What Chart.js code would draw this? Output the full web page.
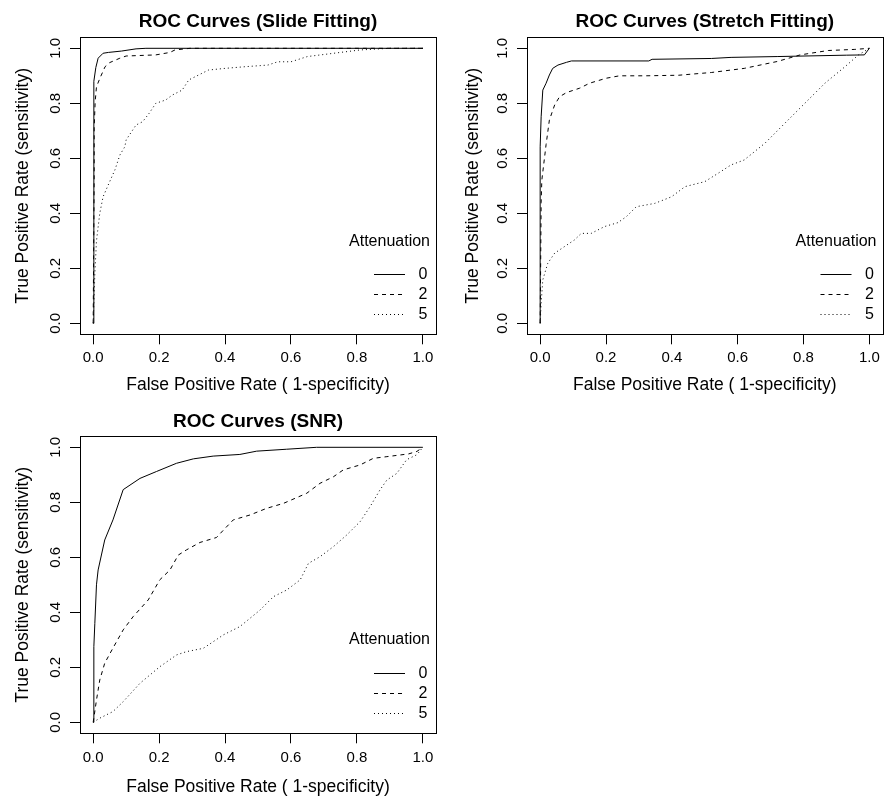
<!DOCTYPE html>
<html>
<head>
<meta charset="utf-8">
<script src="https://cdn.jsdelivr.net/npm/chart.js@4.4.1/dist/chart.umd.min.js"></script>
<style>
  body { margin: 0; background: #fff; }
  canvas { position: absolute; }
</style>
</head>
<body>
<canvas id="slideChart" width="445" height="400" style="left:0;top:0"></canvas>
<canvas id="stretchChart" width="440" height="400" style="left:445px;top:0"></canvas>
<canvas id="snrChart" width="445" height="409" style="left:0;top:390px"></canvas>
<script>
const tickValues = [0, 0.2, 0.4, 0.6, 0.8, 1.0];
const attenuationLevels = ["0", "2", "5"];
const lineDashes = [[], [4, 4], [1, 3]];

// slide fitting: x = false positive rate, y = true positive rate
const slideFpr0 = [0, 0.002, 0.008, 0.015, 0.03, 0.046, 0.086, 0.13, 0.16, 1.0];
const slideTpr0 = [0, 0.88, 0.93, 0.964, 0.982, 0.985, 0.99, 0.998, 1.0, 1.0];
const slideFpr2 = [0, 0.003, 0.003, 0.006, 0.01, 0.02, 0.036, 0.05, 0.081, 0.1, 0.19, 0.233, 0.248, 0.294, 1.0];
const slideTpr2 = [0, 0.54, 0.71, 0.806, 0.86, 0.89, 0.933, 0.948, 0.964, 0.972, 0.976, 0.985, 0.994, 1.0, 1.0];
const slideFpr5 = [0, 0.003, 0.005, 0.01, 0.02, 0.03, 0.05, 0.066, 0.081, 0.096, 0.1, 0.13, 0.15, 0.17, 0.19, 0.22, 0.24, 0.27, 0.29, 0.32, 0.35, 0.4, 0.46, 0.53, 0.56, 0.6, 0.65, 0.73, 0.81, 0.9, 1.0];
const slideTpr5 = [0, 0.1, 0.18, 0.3, 0.4, 0.46, 0.515, 0.558, 0.612, 0.642, 0.667, 0.721, 0.733, 0.764, 0.8, 0.812, 0.83, 0.848, 0.885, 0.903, 0.921, 0.927, 0.933, 0.939, 0.951, 0.951, 0.97, 0.982, 0.994, 1.0, 1.0];

// stretch fitting
const stretchFpr0 = [0, 0, 0.003, 0.008, 0.018, 0.028, 0.038, 0.054, 0.08, 0.095, 0.33, 0.34, 0.52, 0.58, 0.72, 0.93, 0.985, 1.0];
const stretchTpr0 = [0, 0.642, 0.751, 0.848, 0.873, 0.903, 0.927, 0.939, 0.949, 0.954, 0.954, 0.96, 0.963, 0.967, 0.97, 0.975, 0.976, 1.0];
const stretchFpr2 = [0, 0.003, 0.005, 0.013, 0.018, 0.028, 0.044, 0.059, 0.08, 0.12, 0.15, 0.2, 0.241, 0.32, 0.42, 0.52, 0.62, 0.72, 0.79, 0.875, 0.956, 1.0];
const stretchTpr2 = [0, 0.44, 0.52, 0.6, 0.65, 0.739, 0.794, 0.824, 0.839, 0.855, 0.873, 0.891, 0.9, 0.9, 0.902, 0.912, 0.927, 0.952, 0.976, 0.992, 0.996, 1.0];
const stretchFpr5 = [0, 0.003, 0.008, 0.023, 0.044, 0.074, 0.104, 0.125, 0.155, 0.196, 0.236, 0.262, 0.292, 0.348, 0.399, 0.44, 0.5, 0.54, 0.58, 0.62, 0.683, 0.743, 0.804, 0.865, 0.926, 0.967, 1.0];
const stretchTpr5 = [0, 0.073, 0.158, 0.218, 0.255, 0.279, 0.303, 0.327, 0.327, 0.352, 0.366, 0.388, 0.424, 0.436, 0.46, 0.497, 0.515, 0.545, 0.576, 0.594, 0.655, 0.727, 0.8, 0.873, 0.933, 0.976, 1.0];

// SNR
const snrFpr0 = [0, 0.002, 0.005, 0.01, 0.015, 0.035, 0.06, 0.091, 0.142, 0.192, 0.253, 0.304, 0.364, 0.445, 0.496, 0.587, 0.678, 1.0];
const snrTpr0 = [0, 0.275, 0.36, 0.5, 0.554, 0.663, 0.736, 0.846, 0.887, 0.912, 0.942, 0.958, 0.968, 0.974, 0.986, 0.993, 1.0, 1.0];
const snrFpr2 = [0, 0.01, 0.02, 0.035, 0.06, 0.091, 0.121, 0.167, 0.202, 0.233, 0.258, 0.283, 0.324, 0.374, 0.4, 0.425, 0.476, 0.526, 0.577, 0.648, 0.688, 0.729, 0.759, 0.81, 0.85, 0.891, 0.957, 0.982, 1.0];
const snrTpr2 = [0, 0.081, 0.154, 0.215, 0.27, 0.336, 0.384, 0.445, 0.518, 0.554, 0.608, 0.627, 0.654, 0.672, 0.705, 0.736, 0.754, 0.778, 0.796, 0.833, 0.869, 0.893, 0.918, 0.936, 0.96, 0.966, 0.976, 0.985, 1.0];
const snrFpr5 = [0, 0.02, 0.06, 0.091, 0.142, 0.202, 0.253, 0.283, 0.334, 0.364, 0.395, 0.445, 0.506, 0.547, 0.587, 0.628, 0.653, 0.688, 0.729, 0.769, 0.81, 0.84, 0.87, 0.891, 0.921, 0.951, 0.982, 1.0];
const snrTpr5 = [0, 0.015, 0.039, 0.075, 0.142, 0.202, 0.245, 0.257, 0.269, 0.293, 0.318, 0.348, 0.408, 0.457, 0.481, 0.518, 0.578, 0.602, 0.639, 0.681, 0.73, 0.784, 0.845, 0.881, 0.905, 0.955, 0.973, 1.0];

const FONT = "'Liberation Sans', Arial, Helvetica, sans-serif";
Chart.defaults.font.family = FONT;
Chart.defaults.color = '#000';

function zip(xs, ys) {
  return xs.map((x, i) => ({ x: x, y: ys[i] }));
}

// plot box like R's box()
const boxPlugin = {
  id: 'plotBox',
  afterDatasetsDraw(chart) {
    const { ctx, chartArea: a } = chart;
    ctx.save();
    ctx.strokeStyle = '#000';
    ctx.lineWidth = 1;
    const l = Math.round(a.left) + 0.5, t = Math.round(a.top) + 0.5;
    const r = Math.round(a.right) + 0.5, b = Math.round(a.bottom) + 0.5;
    ctx.strokeRect(l, t, r - l, b - t);
    ctx.restore();
  }
};

// "Attenuation" legend in bottom right corner
const legendPlugin = {
  id: 'attenuationLegend',
  afterDraw(chart, args, opts) {
    const { ctx, chartArea: a } = chart;
    ctx.save();
    ctx.fillStyle = '#000';
    ctx.strokeStyle = '#000';
    ctx.lineWidth = 1;
    ctx.font = '16px ' + FONT;
    ctx.textBaseline = 'middle';
    ctx.textAlign = 'right';
    ctx.fillText('Attenuation', a.right - 6, a.bottom - opts.titleGap);
    chart.data.datasets.forEach((ds, i) => {
      const y = Math.round(a.bottom - 60 + i * 20) + 0.5;
      ctx.setLineDash(ds.borderDash);
      ctx.beginPath();
      ctx.moveTo(a.right - 62, y);
      ctx.lineTo(a.right - 31, y);
      ctx.stroke();
      ctx.setLineDash([]);
      ctx.textAlign = 'center';
      ctx.fillText(ds.label, a.right - 13, y);
    });
    ctx.restore();
  }
};

function makeChart(id, title, curves, lay) {
  const datasets = curves.map((pts, i) => ({
    label: attenuationLevels[i],
    data: pts,
    borderColor: '#000',
    borderWidth: 1,
    borderDash: lineDashes[i],
    pointRadius: 0,
    tension: 0,
    fill: false
  }));

  return new Chart(document.getElementById(id), {
    type: 'line',
    data: { datasets: datasets },
    plugins: [boxPlugin, legendPlugin],
    options: {
      responsive: false,
      animation: false,
      devicePixelRatio: 1,
      layout: { padding: { left: 0, right: lay.padRight, top: 0, bottom: 0 } },
      plugins: {
        legend: { display: false },
        tooltip: { enabled: false },
        title: {
          display: true,
          text: title,
          fullSize: false,
          color: '#000',
          font: { size: 19, weight: 'bold' },
          padding: { top: lay.titleTop, bottom: lay.titleBottom }
        },
        attenuationLegend: { titleGap: lay.legendGap }
      },
      scales: {
        x: {
          type: 'linear',
          min: -0.04,
          max: 1.04,
          afterBuildTicks: s => { s.ticks = tickValues.map(v => ({ value: v })); },
          afterFit: s => { s.height = lay.xAxisHeight; },
          border: { display: false },
          grid: { drawOnChartArea: false, drawTicks: true, tickLength: 10, color: '#000' },
          ticks: {
            color: '#000', font: { size: 15 }, padding: lay.xTickPad,
            maxRotation: 0, autoSkip: false,
            callback: v => v.toFixed(1)
          },
          title: {
            display: true, text: 'False Positive Rate ( 1-specificity)', color: '#000',
            font: { size: 17.5 }, padding: { top: 0, bottom: lay.xTitlePad }
          }
        },
        y: {
          type: 'linear',
          min: -0.04,
          max: 1.04,
          afterBuildTicks: s => { s.ticks = tickValues.map(v => ({ value: v })); },
          afterFit: s => { s.width = lay.yAxisWidth; },
          border: { display: false },
          grid: { drawOnChartArea: false, drawTicks: true, tickLength: 10, color: '#000' },
          ticks: {
            color: '#000', font: { size: 15 }, padding: 4,
            minRotation: 90, maxRotation: 90, crossAlign: 'center', autoSkip: false,
            callback: v => v.toFixed(1)
          },
          title: {
            display: true, text: 'True Positive Rate (sensitivity)', color: '#000',
            font: { size: 17.5 }, padding: { top: lay.yTitlePad, bottom: 0 }
          }
        }
      }
    }
  });
}

makeChart('slideChart', 'ROC Curves (Slide Fitting)',
  [zip(slideFpr0, slideTpr0), zip(slideFpr2, slideTpr2), zip(slideFpr5, slideTpr5)],
  { padRight: 9, titleTop: 10.2, titleBottom: 4.3, xAxisHeight: 65.7, yAxisWidth: 80,
    xTickPad: 5, xTitlePad: 4, yTitlePad: 12.5, legendGap: 93 });

makeChart('stretchChart', 'ROC Curves (Stretch Fitting)',
  [zip(stretchFpr0, stretchTpr0), zip(stretchFpr2, stretchTpr2), zip(stretchFpr5, stretchTpr5)],
  { padRight: 2.5, titleTop: 10.2, titleBottom: 4.3, xAxisHeight: 65.7, yAxisWidth: 82,
    xTickPad: 5, xTitlePad: 4, yTitlePad: 17.5, legendGap: 93 });

makeChart('snrChart', 'ROC Curves (SNR)',
  [zip(snrFpr0, snrTpr0), zip(snrFpr2, snrTpr2), zip(snrFpr5, snrTpr5)],
  { padRight: 9, titleTop: 20.4, titleBottom: 3.1, xAxisHeight: 65.7, yAxisWidth: 80,
    xTickPad: 6, xTitlePad: 1, yTitlePad: 12.5, legendGap: 94 });
</script>
</body>
</html>
